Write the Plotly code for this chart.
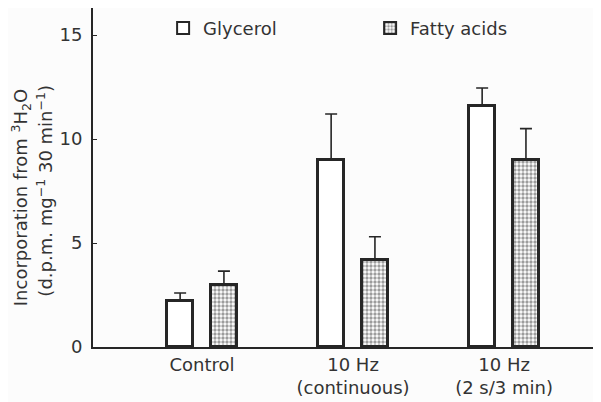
import plotly.graph_objects as go

categories = ["Control", "10 Hz<br>(continuous)", "10 Hz<br>(2 s/3 min)"]
glycerol = [2.2, 9.0, 11.6]
glycerol_err = [0.4, 2.2, 0.85]
fatty = [3.0, 4.2, 9.0]
fatty_err = [0.65, 1.1, 1.5]
yticks = [0, 5, 10, 15]
ytitle1 = "Incorporation from <sup>3</sup>H<sub>2</sub>O"
ytitle2 = "(d.p.m. mg<sup>−1</sup> 30 min<sup>−1</sup>)"

pos = [0, 1, 2]
off = 0.145
ink = "#262626"
txt = "#333333"
fontfam = "DejaVu Sans, Liberation Sans, Arial, sans-serif"

fig = go.Figure()
fig.add_trace(go.Bar(
    x=[p - off for p in pos], y=glycerol, name="Glycerol", width=0.175,
    marker=dict(color="white", line=dict(color=ink, width=3)),
    error_y=dict(type="data", array=glycerol_err, arrayminus=[0]*3, symmetric=False,
                 color=ink, thickness=1.6, width=6),
))
fig.add_trace(go.Bar(
    x=[p + off for p in pos], y=fatty, name="Fatty acids", width=0.175,
    marker=dict(color="white", line=dict(color=ink, width=3),
                pattern=dict(shape=".", fgcolor="#3a3a3a", bgcolor="white", size=4, solidity=0.55)),
    error_y=dict(type="data", array=fatty_err, arrayminus=[0]*3, symmetric=False,
                 color=ink, thickness=1.6, width=6),
))

# page body has an 8px default margin, so the figure is 8px smaller
fig.update_layout(
    width=593, height=394,
    margin=dict(l=85, r=0, t=0, b=55, autoexpand=False),
    paper_bgcolor="#fcfcfc", plot_bgcolor="#fcfcfc",
    font=dict(family=fontfam, color=txt, size=18),
    showlegend=True,
    legend=dict(orientation="h", x=0.138, y=0.995, xanchor="left", yanchor="top",
                bgcolor="rgba(0,0,0,0)", font=dict(size=18), entrywidth=162,
                entrywidthmode="pixels", itemsizing="constant"),
    bargap=0,
    annotations=[
        dict(text=ytitle1, xref="paper", yref="paper", x=-0.143, y=0.44,
             xanchor="center", yanchor="middle", textangle=-90, showarrow=False,
             font=dict(size=18, color=txt)),
        dict(text=ytitle2, xref="paper", yref="paper", x=-0.094, y=0.462,
             xanchor="center", yanchor="middle", textangle=-90, showarrow=False,
             font=dict(size=18, color=txt)),
    ],
)
fig.update_xaxes(
    range=[-0.722, 2.642], tickvals=pos, ticktext=categories, automargin=False,
    showline=True, linecolor=ink, linewidth=2, ticks="", showgrid=False,
    zeroline=False, tickfont=dict(size=18),
)
fig.update_yaxes(
    range=[0, 16.3], tickvals=yticks, ticks="inside", ticklen=4, tickcolor=ink,
    showline=True, linecolor=ink, linewidth=2, showgrid=False, zeroline=False,
    tickfont=dict(size=18), automargin=False, ticklabelstandoff=5,
)

fig.write_html("out.html")
